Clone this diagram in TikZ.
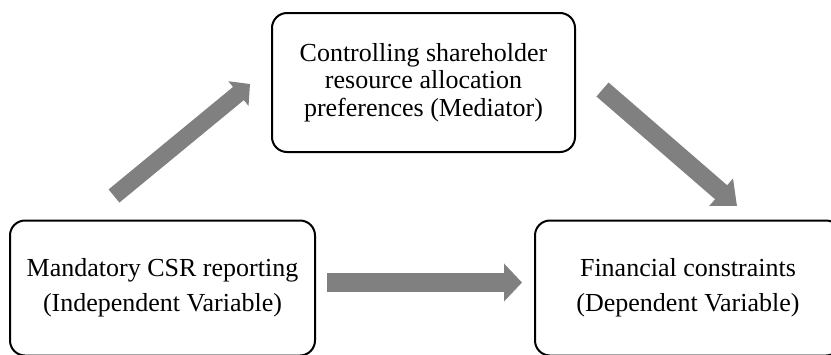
\documentclass[tikz,border=0pt]{standalone}
\usepackage{fontspec}
\setmainfont{Liberation Serif}
\usetikzlibrary{arrows.meta}
\definecolor{arrowgray}{HTML}{808080}
\tikzset{
  varbox/.style={draw=black, line width=2pt, rounded corners=15pt, fill=white,
    align=center, inner sep=0pt, minimum width=#1},
  topfont/.style={font=\fontsize{26}{27.5}\selectfont},
  lowfont/.style={font=\fontsize{26}{35}\selectfont},
  blockarrow/.style n args={3}{draw=arrowgray, line width=#1,
    -{Triangle[width=#2, length=#3, fill=arrowgray]}},
}
\begin{document}
\begin{tikzpicture}[x=1pt, y=-1pt]
\useasboundingbox (0,0) rectangle (831,354);
\node[varbox=303pt, minimum height=139pt, topfont] (med) at (423.5,82.5)
  {Controlling shareholder\\resource allocation\\preferences (Mediator)};
\node[varbox=305pt, minimum height=135pt, lowfont] (ind) at (162.5,288)
  {Mandatory CSR reporting\\(Independent Variable)};
\node[varbox=306pt, minimum height=135pt, lowfont] (dep) at (688,288)
  {Financial constraints\\(Dependent Variable)};
\coordinate (a1s) at (114,196);
\coordinate (a1e) at (250,84);
\coordinate (a2s) at (602.5,89.5);
\coordinate (a2e) at (737,206);
\coordinate (a3s) at (327,282.5);
\coordinate (a3e) at (522,282.5);
\draw[blockarrow={17pt}{31pt}{15pt}] (a1s) -- (a1e);
\draw[blockarrow={18.5pt}{35pt}{21pt}] (a2s) -- (a2e);
\draw[blockarrow={19pt}{37pt}{18pt}] (a3s) -- (a3e);
\end{tikzpicture}
\end{document}
